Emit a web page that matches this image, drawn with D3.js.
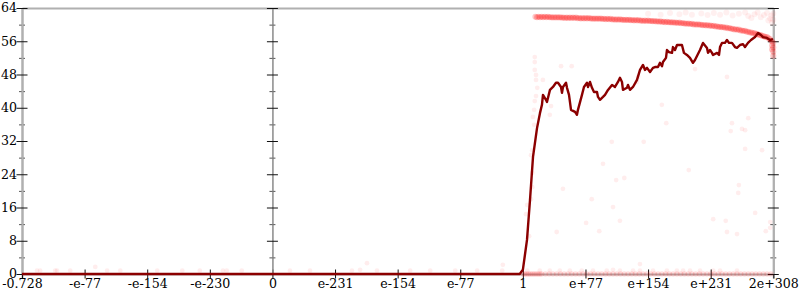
<!DOCTYPE html>
<html><head><meta charset="utf-8">
<script src="https://cdn.jsdelivr.net/npm/d3@7/dist/d3.min.js"></script>
<style>body{margin:0;background:#fff}svg{display:block}</style>
</head><body>
<svg id="c" width="800" height="300"></svg>
<script>
// x positions are in "tick index" units (ordinal-like floating-point axis)
const xTickLabels = ["-0.728","-e-77","-e-154","-e-230","0","e-231","e-154","e-77","1","e+77","e+154","e+231","2e+308"];
const yMajor = [0,8,16,24,32,40,48,56,64];
const yMinor = [4,12,20,28,36,44,52,60];

const lineX = [0,7.95,8.00,8.066,8.114,8.162,8.226,8.273,8.305,8.321,8.369,8.385,8.433,8.481,8.529,8.561,8.609,8.625,8.641,8.689,8.705,8.737,8.769,8.833,8.864,8.880,8.944,8.976,9.024,9.040,9.072,9.104,9.136,9.184,9.200,9.232,9.280,9.312,9.360,9.424,9.471,9.519,9.551,9.583,9.599,9.663,9.679,9.711,9.759,9.823,9.871,9.919,9.951,9.983,10.031,10.078,10.110,10.158,10.190,10.222,10.238,10.286,10.302,10.334,10.382,10.398,10.430,10.462,10.494,10.541,10.573,10.621,10.669,10.717,10.749,10.829,10.877,10.941,10.957,10.989,11.021,11.037,11.101,11.133,11.149,11.180,11.228,11.260,11.292,11.340,11.388,11.420,11.468,11.516,11.548,11.596,11.644,11.708,11.756,11.803,11.835,11.899,11.947,11.995];
const lineY = [0,0,1.0,8.2,17.8,28.2,35.1,38.7,40.7,43.1,41.9,41.4,44.3,45.0,46.0,46.0,45.0,43.6,45.0,46.0,44.8,43.1,39.5,39.0,38.3,39.5,43.1,45.0,46.0,45.0,46.2,44.8,43.8,43.8,42.6,41.9,42.6,43.1,44.3,45.5,45.0,46.2,47.2,46.2,44.3,44.8,45.5,44.3,45.0,46.7,49.1,50.3,49.1,49.6,48.6,49.6,49.8,49.8,50.8,50.0,51.0,52.0,53.9,53.4,53.2,54.6,53.9,55.1,55.1,55.1,53.2,52.7,52.0,50.8,51.5,53.9,55.6,54.4,53.2,53.9,53.2,52.7,53.2,52.7,54.6,55.6,55.6,56.3,55.6,55.6,54.6,54.4,55.1,55.3,54.6,55.6,56.3,57.0,58.0,57.5,57.0,56.8,56.3,56.5];

// dense band of points near the top
const bandX = [8.20,8.25,8.30,8.35,8.40,8.45,8.50,8.55,8.60,8.65,8.70,8.75,8.80,8.85,8.90,8.95,9.00,9.05,9.10,9.15,9.20,9.25,9.30,9.35,9.40,9.45,9.50,9.55,9.60,9.65,9.70,9.75,9.80,9.85,9.90,9.95,10.00,10.05,10.10,10.15,10.20,10.25,10.30,10.35,10.40,10.45,10.50,10.55,10.60,10.65,10.70,10.75,10.80,10.85,10.90,10.95,11.00,11.05,11.10,11.15,11.20,11.25,11.30,11.35,11.40,11.45,11.50,11.55,11.60,11.65,11.70,11.75,11.80,11.85,11.90,11.95,12.00,12.00,12.00,12.00,11.98,11.98];
const bandY = [61.9,61.9,61.9,61.9,61.9,61.8,61.8,61.8,61.8,61.7,61.7,61.7,61.7,61.7,61.6,61.6,61.6,61.6,61.5,61.5,61.5,61.5,61.4,61.4,61.4,61.3,61.3,61.3,61.2,61.2,61.2,61.1,61.1,61.1,61.0,61.0,61.0,60.9,60.9,60.8,60.8,60.7,60.7,60.6,60.6,60.5,60.5,60.4,60.3,60.3,60.2,60.1,60.1,60.0,59.9,59.9,59.8,59.7,59.6,59.5,59.4,59.3,59.2,59.0,58.9,58.8,58.6,58.5,58.3,58.1,58.0,57.7,57.5,57.2,57.0,56.5,55.6,54.5,53.5,52.5,55.0,54.0];
const band2X = [8.225,8.275,8.325,8.375,8.425,8.475,8.525,8.575,8.625,8.675,8.725,8.775,8.825,8.875,8.925,8.975,9.025,9.075,9.125,9.175,9.225,9.275,9.325,9.375,9.425,9.475,9.525,9.575,9.625,9.675,9.725,9.775,9.825,9.875,9.925,9.975,10.025,10.075,10.125,10.175,10.225,10.275,10.325,10.375,10.425,10.475,10.525,10.575,10.625,10.675,10.725,10.775,10.825,10.875,10.925,10.975,11.025,11.075,11.125,11.175,11.225,11.275,11.325,11.375,11.425,11.475,11.525,11.575,11.625,11.675,11.725,11.775,11.825,11.875,11.925,11.975];
const band2Y = [61.8,61.8,61.8,61.8,61.75,61.7,61.7,61.7,61.65,61.6,61.6,61.6,61.6,61.55,61.5,61.5,61.5,61.45,61.4,61.4,61.4,61.35,61.3,61.3,61.25,61.2,61.2,61.15,61.1,61.1,61.05,61.0,61.0,60.95,60.9,60.9,60.85,60.8,60.75,60.7,60.65,60.6,60.55,60.5,60.45,60.4,60.35,60.25,60.2,60.15,60.05,60.0,59.95,59.85,59.8,59.75,59.65,59.55,59.45,59.35,59.25,59.15,59.0,58.85,58.75,58.6,58.45,58.3,58.1,57.95,57.75,57.5,57.25,57.0,56.7,56.0];

// faint haze of points above the band
const hazeX = [10.0,10.2,10.35,10.5,10.6,10.7,10.85,10.95,11.05,11.15,11.25,11.35,11.45,11.55,11.6,11.65,11.7,11.75,11.8,11.85,11.9,11.92,11.95,11.97,11.98,12.0,12.0];
const hazeY = [62.6,62.4,62.8,62.5,62.9,62.4,62.7,62.3,62.8,62.4,62.9,62.2,62.6,62.9,62.1,61.6,62.5,62.9,61.8,62.3,62.8,61.0,61.5,62.2,60.5,62.7,61.2];

// scattered faint points
const scatX = [8.19,8.19,8.19,8.21,8.21,8.23,8.21,8.19,8.18,8.16,8.18,8.15,8.13,8.15,8.15,8.13,8.07,8.05,8.10,8.32,8.61,8.45,8.43,8.78,8.64,8.54,9.01,9.10,9.22,9.28,9.42,9.44,9.49,9.55,9.62,9.82,9.84,9.87,9.93,10.22,10.29,10.65,10.75,11.04,11.24,11.26,11.26,11.32,11.34,11.42,11.44,11.45,11.50,11.55,11.55,11.60,11.71,11.82,11.88,11.95,11.95,7.68];
const scatY = [52.2,51.0,49.1,47.9,46.7,44.8,42.8,41.6,39.5,37.8,35.9,29.8,28.6,24.3,20.9,18.0,16.6,14.4,9.1,46.7,50.0,40.4,38.3,50.0,20.5,10.1,12.3,18.0,10.3,26.5,31.8,16.1,22.6,12.8,23.1,46.2,47.4,2.4,31.8,40.7,36.3,25.0,49.3,13.2,12.8,47.4,10.1,34.4,36.3,9.6,19.5,21.4,34.9,34.6,30.1,37.5,14.7,29.8,10.3,12.5,11.1,2.2];

// points lying just above zero
const lowX = [0.24,0.29,0.53,0.56,0.77,1.17,1.36,1.57,2.16,2.56,2.84,3.21,3.27,3.51,4.28,4.60,5.27,5.40,5.51,5.67,6.20,6.52,6.92,7.27,7.67,8.07,8.27,8.43,8.59,8.75,8.94,9.12,9.34,9.44,9.55,9.76,9.87,10.08,10.30,10.46,10.56,10.67,10.83,11.04,11.15,11.42];
const lowY = [0.8,0.8,0.8,0.8,0.8,1.7,0.8,0.8,0.8,0.8,0.8,0.8,0.8,0.8,0.8,0.8,0.8,1.0,2.6,0.8,0.8,0.8,0.8,0.8,0.8,0.8,0.8,0.8,0.8,0.8,0.8,0.8,0.8,1.0,0.8,0.8,0.8,0.8,0.8,0.8,0.8,0.8,0.8,0.8,0.8,0.8];

// points at exactly zero (right of 1)
const zeroX = [8.00,8.03,8.06,8.09,8.12,8.15,8.18,8.21,8.24,8.27,8.30,8.36,8.42,8.48,8.54,8.60,8.66,8.72,8.78,8.84,8.90,8.96,9.02,9.08,9.14,9.20,9.26,9.32,9.38,9.44,9.50,9.56,9.62,9.68,9.74,9.80,9.86,9.92,9.98,10.04,10.10,10.16,10.22,10.28,10.34,10.40,10.46,10.52,10.58,10.64,10.70,10.76,10.82,10.88,10.94,11.00,11.06,11.12,11.18,11.24,11.30,11.36,11.42,11.48,11.54,11.60,11.66,11.72,11.78,11.84,11.90,11.96];

const svg = d3.select("#c");
const L = 22, R = 773.3, T = 8, B = 274;
const x = d3.scaleLinear().domain([0,12]).range([L,R]);
const y = d3.scaleLinear().domain([0,64]).range([B,T]);
const font = "'DejaVu Serif', serif";
const fs = 12.6;

function styleAxis(g, domColor, domWidth, tickColor){
  g.select(".domain").attr("stroke", domColor).attr("stroke-width", domWidth);
  g.selectAll(".tick line").attr("stroke", tickColor).attr("stroke-width",1);
  return g;
}

// top border
const gTop = svg.append("g").attr("transform",`translate(0,${T})`)
  .call(d3.axisTop(x).tickValues([]).tickSizeOuter(0));
styleAxis(gTop,"#b0b0b0",2,"#000");

// bottom axis
const gB = svg.append("g").attr("transform",`translate(0,${B})`)
  .call(d3.axisBottom(x).tickValues(d3.range(13)).tickFormat((d,i)=>xTickLabels[i]).tickSizeOuter(0).tickSize(4.5));
styleAxis(gB,"#b0b0b0",2,"#111");
gB.selectAll(".tick line").attr("y1",-4.5).attr("y2",4.5);
gB.selectAll(".tick text").attr("y",14).attr("dy","0").attr("font-family",font).attr("font-size",fs).attr("fill","#000");

// vertical axes: left (with labels), middle (at 0), right
function vAxis(px, labels, domColor, domWidth){
  const g = svg.append("g").attr("transform",`translate(${px},0)`);
  const gm = g.append("g").call(d3.axisLeft(y).tickValues(yMinor).tickFormat("").tickSizeOuter(0));
  styleAxis(gm, domColor, domWidth, "#555");
  gm.selectAll(".tick line").attr("x1",3).attr("x2",-3);
  const gM = g.append("g").call(d3.axisLeft(y).tickValues(yMajor).tickFormat(labels ? d3.format("d") : "").tickSizeOuter(0));
  styleAxis(gM, domColor, domWidth, "#111");
  gM.selectAll(".tick line").attr("x1",5.5).attr("x2",-5.5);
  gM.selectAll(".tick text").attr("x",-5).attr("dy","0.3em").attr("font-family",font).attr("font-size",fs).attr("fill","#000");
  return g;
}
vAxis(x(0), true, "#b0b0b0", 2);
vAxis(x(4), false, "#8a8a8a", 1);
vAxis(x(12), false, "#b0b0b0", 2);

// points
function dots(xs, ys, r, op){
  svg.append("g").selectAll("circle").data(xs.map((d,i)=>[d,ys[i]])).join("circle")
    .attr("cx",d=>x(d[0])).attr("cy",d=>y(d[1])).attr("r",r)
    .attr("fill","#ff0000").attr("fill-opacity",op);
}
dots(zeroX, zeroX.map(()=>0), 2.8, 0.13);
dots(lowX, lowY, 2.4, 0.07);
dots(scatX, scatY, 2.4, 0.07);
dots(hazeX, hazeY, 3, 0.06);
dots(bandX, bandY, 3, 0.22);
dots(band2X, band2Y, 3, 0.22);

// line
svg.append("path").datum(lineX.map((d,i)=>[d,lineY[i]]))
  .attr("fill","none").attr("stroke","#8b0000").attr("stroke-width",2.4).attr("stroke-linejoin","round")
  .attr("d", d3.line().x(d=>x(d[0])).y(d=>y(d[1])));
</script>
</body></html>
